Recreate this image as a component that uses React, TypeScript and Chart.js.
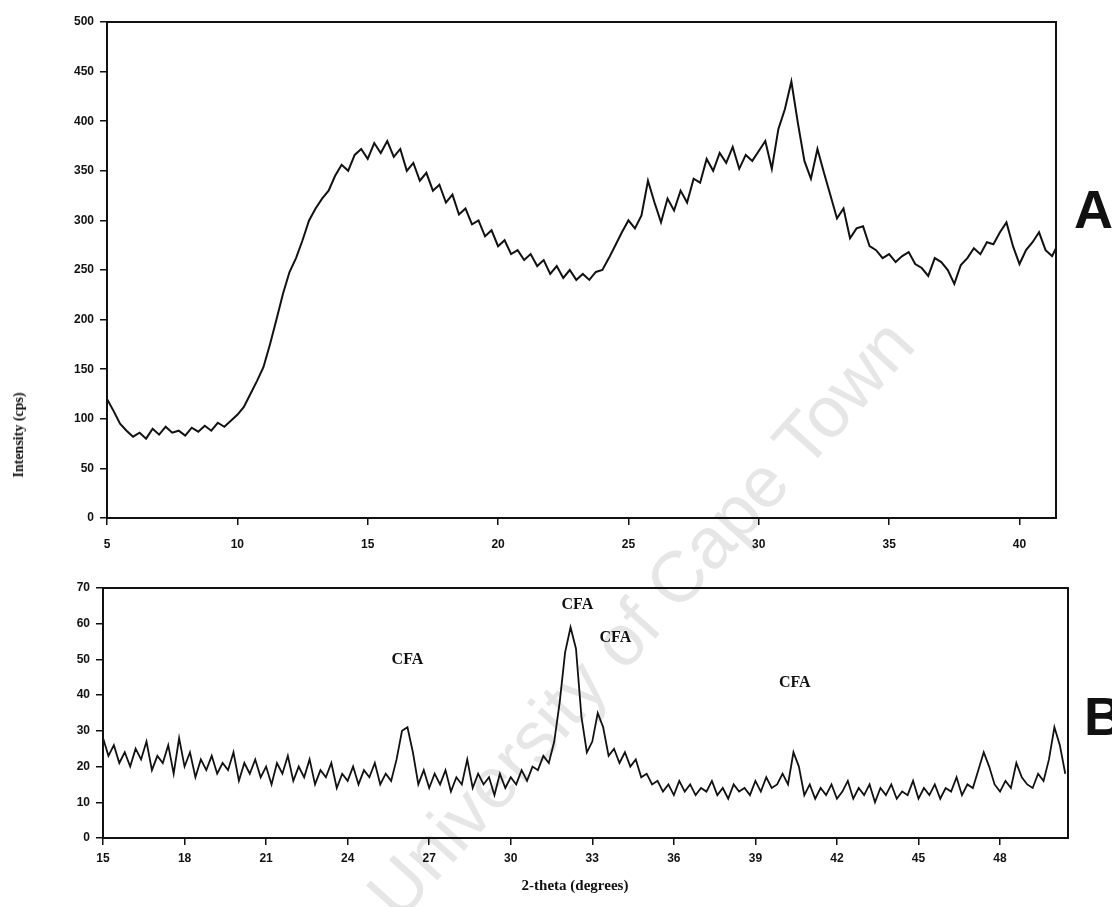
import React, { useEffect, useRef } from "react";
import { Chart, registerables } from "chart.js";

Chart.register(...registerables);

// ---------- Panel A data ----------
const TOP_THETA = [
  5.0, 5.25, 5.5, 5.75, 6.0, 6.25, 6.5, 6.75, 7.0, 7.25, 7.5, 7.75, 8.0, 8.25, 8.5, 8.75,
  9.0, 9.25, 9.5, 9.75, 10.0, 10.25, 10.5, 10.75, 11.0, 11.25, 11.5, 11.75, 12.0, 12.25,
  12.5, 12.75, 13.0, 13.25, 13.5, 13.75, 14.0, 14.25, 14.5, 14.75, 15.0, 15.25, 15.5,
  15.75, 16.0, 16.25, 16.5, 16.75, 17.0, 17.25, 17.5, 17.75, 18.0, 18.25, 18.5, 18.75,
  19.0, 19.25, 19.5, 19.75, 20.0, 20.25, 20.5, 20.75, 21.0, 21.25, 21.5, 21.75, 22.0,
  22.25, 22.5, 22.75, 23.0, 23.25, 23.5, 23.75, 24.0, 24.25, 24.5, 24.75, 25.0, 25.25,
  25.5, 25.75, 26.0, 26.25, 26.5, 26.75, 27.0, 27.25, 27.5, 27.75, 28.0, 28.25, 28.5,
  28.75, 29.0, 29.25, 29.5, 29.75, 30.0, 30.25, 30.5, 30.75, 31.0, 31.25, 31.5, 31.75,
  32.0, 32.25, 32.5, 32.75, 33.0, 33.25, 33.5, 33.75, 34.0, 34.25, 34.5, 34.75, 35.0,
  35.25, 35.5, 35.75, 36.0, 36.25, 36.5, 36.75, 37.0, 37.25, 37.5, 37.75, 38.0, 38.25,
  38.5, 38.75, 39.0, 39.25, 39.5, 39.75, 40.0, 40.25, 40.5, 40.75, 41.0, 41.25, 41.4,
];
const TOP_INTENSITY = [
  120, 108, 95, 88, 82, 86, 80, 90, 84, 92, 86, 88, 83, 91, 87, 93,
  88, 96, 92, 98, 104, 112, 125, 138, 152, 175, 200, 226, 248, 262,
  280, 300, 312, 322, 330, 345, 356, 350, 366, 372, 362, 378, 368,
  380, 364, 372, 350, 358, 340, 348, 330, 336, 318, 326, 306, 312,
  296, 300, 284, 290, 274, 280, 266, 270, 260, 266, 254, 260, 246,
  254, 242, 250, 240, 246, 240, 248, 250, 262, 275, 288, 300, 292,
  305, 340, 318, 298, 322, 310, 330, 318, 342, 338, 362, 350, 368,
  358, 374, 352, 366, 360, 370, 380, 352, 392, 412, 440, 398, 360,
  342, 372, 348, 325, 302, 312, 282, 292, 294, 274, 270, 262, 266,
  258, 264, 268, 256, 252, 244, 262, 258, 250, 236, 255, 262, 272,
  266, 278, 276, 288, 298, 274, 256, 270, 278, 288, 270, 264, 272,
];
const TOP_Y_TICKS = { min: 0, max: 500, step: 50 };
const TOP_X_TICKS = { min: 5, max: 41.4, step: 5 };

// ---------- Panel B data ----------
const BOT_THETA = [
  15.0, 15.2, 15.4, 15.6, 15.8, 16.0, 16.2, 16.4, 16.6, 16.8, 17.0, 17.2, 17.4, 17.6, 17.8,
  18.0, 18.2, 18.4, 18.6, 18.8, 19.0, 19.2, 19.4, 19.6, 19.8, 20.0, 20.2, 20.4, 20.6, 20.8,
  21.0, 21.2, 21.4, 21.6, 21.8, 22.0, 22.2, 22.4, 22.6, 22.8, 23.0, 23.2, 23.4, 23.6, 23.8,
  24.0, 24.2, 24.4, 24.6, 24.8, 25.0, 25.2, 25.4, 25.6, 25.8, 26.0, 26.2, 26.4, 26.6, 26.8,
  27.0, 27.2, 27.4, 27.6, 27.8, 28.0, 28.2, 28.4, 28.6, 28.8, 29.0, 29.2, 29.4, 29.6, 29.8,
  30.0, 30.2, 30.4, 30.6, 30.8, 31.0, 31.2, 31.4, 31.6, 31.8, 32.0, 32.2, 32.4, 32.6, 32.8,
  33.0, 33.2, 33.4, 33.6, 33.8, 34.0, 34.2, 34.4, 34.6, 34.8, 35.0, 35.2, 35.4, 35.6, 35.8,
  36.0, 36.2, 36.4, 36.6, 36.8, 37.0, 37.2, 37.4, 37.6, 37.8, 38.0, 38.2, 38.4, 38.6, 38.8,
  39.0, 39.2, 39.4, 39.6, 39.8, 40.0, 40.2, 40.4, 40.6, 40.8, 41.0, 41.2, 41.4, 41.6, 41.8,
  42.0, 42.2, 42.4, 42.6, 42.8, 43.0, 43.2, 43.4, 43.6, 43.8, 44.0, 44.2, 44.4, 44.6, 44.8,
  45.0, 45.2, 45.4, 45.6, 45.8, 46.0, 46.2, 46.4, 46.6, 46.8, 47.0, 47.2, 47.4, 47.6, 47.8,
  48.0, 48.2, 48.4, 48.6, 48.8, 49.0, 49.2, 49.4, 49.6, 49.8, 50.0, 50.2, 50.4,
];
const BOT_INTENSITY = [
  28, 23, 26, 21, 24, 20, 25, 22, 27, 19, 23, 21, 26, 18, 28,
  20, 24, 17, 22, 19, 23, 18, 21, 19, 24, 16, 21, 18, 22, 17,
  20, 15, 21, 18, 23, 16, 20, 17, 22, 15, 19, 17, 21, 14, 18,
  16, 20, 15, 19, 17, 21, 15, 18, 16, 22, 30, 31, 24, 15, 19,
  14, 18, 15, 19, 13, 17, 15, 22, 14, 18, 15, 17, 12, 18, 14,
  17, 15, 19, 16, 20, 19, 23, 21, 27, 38, 52, 59, 53, 34, 24,
  27, 35, 31, 23, 25, 21, 24, 20, 22, 17, 18, 15, 16, 13, 15,
  12, 16, 13, 15, 12, 14, 13, 16, 12, 14, 11, 15, 13, 14, 12,
  16, 13, 17, 14, 15, 18, 15, 24, 20, 12, 15, 11, 14, 12, 15,
  11, 13, 16, 11, 14, 12, 15, 10, 14, 12, 15, 11, 13, 12, 16,
  11, 14, 12, 15, 11, 14, 13, 17, 12, 15, 14, 19, 24, 20, 15,
  13, 16, 14, 21, 17, 15, 14, 18, 16, 22, 31, 26, 18,
];
const BOT_Y_TICKS = { min: 0, max: 70, step: 10 };
const BOT_X_TICKS = { min: 15, max: 50.5, step: 3 };

// CFA annotations: [2-theta, intensity position of label]
const CFA_LABELS = ["CFA", "CFA", "CFA", "CFA"];
const CFA_THETA = [26.2, 32.45, 33.85, 40.45];
const CFA_Y = [50, 65.3, 56, 43.4];

const INK = "#111";
const TICK_FONT = { family: "'Liberation Sans', Arial, sans-serif", size: 12, weight: "bold" as const };

const framePlugin = {
  id: "frame",
  afterDraw(chart: any) {
    const { ctx, chartArea } = chart;
    const { left, top, right, bottom } = chartArea;
    ctx.save();
    ctx.strokeStyle = INK;
    ctx.lineWidth = 2;
    ctx.strokeRect(left, top, right - left, bottom - top);
    ctx.restore();
  },
};

const cfaPlugin = {
  id: "cfa",
  afterDatasetsDraw(chart: any) {
    const { ctx, scales } = chart;
    ctx.save();
    ctx.fillStyle = INK;
    ctx.font = "bold 16px 'Liberation Serif', 'Times New Roman', serif";
    ctx.textAlign = "center";
    ctx.textBaseline = "middle";
    CFA_LABELS.forEach((t, i) => {
      ctx.fillText(t, scales.x.getPixelForValue(CFA_THETA[i]), scales.y.getPixelForValue(CFA_Y[i]));
    });
    ctx.restore();
  },
};

function axisCfg(t: { min: number; max: number; step: number }, fitKey: "width" | "height", fitVal: number, pad: number) {
  return {
    type: "linear" as const,
    min: t.min,
    max: t.max,
    afterFit: (s: any) => {
      s[fitKey] = fitVal;
    },
    grid: { drawOnChartArea: false, drawTicks: true, tickLength: 7, color: INK, lineWidth: 1.5 },
    border: { display: true, color: INK, width: 2 },
    ticks: {
      stepSize: t.step,
      includeBounds: false,
      color: INK,
      font: TICK_FONT,
      padding: pad,
      maxRotation: 0,
      autoSkip: false,
    },
  };
}

export default function App() {
  const topRef = useRef<HTMLCanvasElement>(null);
  const botRef = useRef<HTMLCanvasElement>(null);

  useEffect(() => {
    const top = new Chart(topRef.current as HTMLCanvasElement, {
      type: "line",
      data: {
        datasets: [
          {
            data: TOP_THETA.map((x, i) => ({ x, y: TOP_INTENSITY[i] })),
            borderColor: INK,
            borderWidth: 2,
            pointRadius: 0,
            tension: 0,
            fill: false,
          },
        ],
      },
      options: {
        responsive: false,
        animation: false,
        layout: { padding: { left: 57, right: 56, top: 22, bottom: 12 } },
        plugins: { legend: { display: false }, tooltip: { enabled: false } },
        scales: {
          x: axisCfg(TOP_X_TICKS, "height", 30, 12),
          y: axisCfg(TOP_Y_TICKS, "width", 50, 6),
        },
      } as any,
      plugins: [framePlugin],
    });
    const bot = new Chart(botRef.current as HTMLCanvasElement, {
      type: "line",
      data: {
        datasets: [
          {
            data: BOT_THETA.map((x, i) => ({ x, y: BOT_INTENSITY[i] })),
            borderColor: INK,
            borderWidth: 1.8,
            pointRadius: 0,
            tension: 0,
            fill: false,
          },
        ],
      },
      options: {
        responsive: false,
        animation: false,
        layout: { padding: { left: 53, right: 44, top: 28, bottom: 39 } },
        plugins: { legend: { display: false }, tooltip: { enabled: false } },
        scales: {
          x: axisCfg(BOT_X_TICKS, "height", 30, 6),
          y: axisCfg(BOT_Y_TICKS, "width", 50, 6),
        },
      } as any,
      plugins: [framePlugin, cfaPlugin],
    });
    return () => {
      top.destroy();
      bot.destroy();
    };
  }, []);

  const serifBold = "'Liberation Serif', 'Times New Roman', serif";

  return (
    <div style={{ position: "absolute", left: 0, top: 0, width: 1112, height: 907, overflow: "hidden", background: "#fff" }}>
      <div
        style={{
          position: "absolute",
          left: 640,
          top: 618,
          transform: "translate(-50%, -50%) rotate(-48deg)",
          whiteSpace: "nowrap",
          fontFamily: "'Liberation Sans', Arial, sans-serif",
          fontSize: 72,
          color: "#e6e6e6",
          zIndex: 0,
        }}
      >
        University of Cape Town
      </div>
      <canvas ref={topRef} width={1112} height={560} style={{ position: "absolute", left: 0, top: 0, zIndex: 1 }} />
      <canvas ref={botRef} width={1112} height={347} style={{ position: "absolute", left: 0, top: 560, zIndex: 1 }} />
      <div
        style={{
          position: "absolute",
          left: 19,
          top: 435,
          transform: "translate(-50%, -50%) rotate(-90deg)",
          whiteSpace: "nowrap",
          fontFamily: serifBold,
          fontWeight: "bold",
          fontSize: 14,
          color: INK,
          zIndex: 2,
        }}
      >
        Intensity (cps)
      </div>
      <div
        style={{
          position: "absolute",
          left: 575,
          top: 885,
          transform: "translate(-50%, -50%)",
          whiteSpace: "nowrap",
          fontFamily: serifBold,
          fontWeight: "bold",
          fontSize: 15,
          color: INK,
          zIndex: 2,
        }}
      >
        2-theta (degrees)
      </div>
      <div
        style={{
          position: "absolute",
          left: 1074,
          top: 179,
          fontFamily: "'Liberation Sans', Arial, sans-serif",
          fontWeight: "bold",
          fontSize: 54,
          lineHeight: "60px",
          color: INK,
          zIndex: 2,
        }}
      >
        A
      </div>
      <div
        style={{
          position: "absolute",
          left: 1084,
          top: 686,
          fontFamily: "'Liberation Sans', Arial, sans-serif",
          fontWeight: "bold",
          fontSize: 54,
          lineHeight: "60px",
          color: INK,
          zIndex: 2,
        }}
      >
        B
      </div>
    </div>
  );
}
